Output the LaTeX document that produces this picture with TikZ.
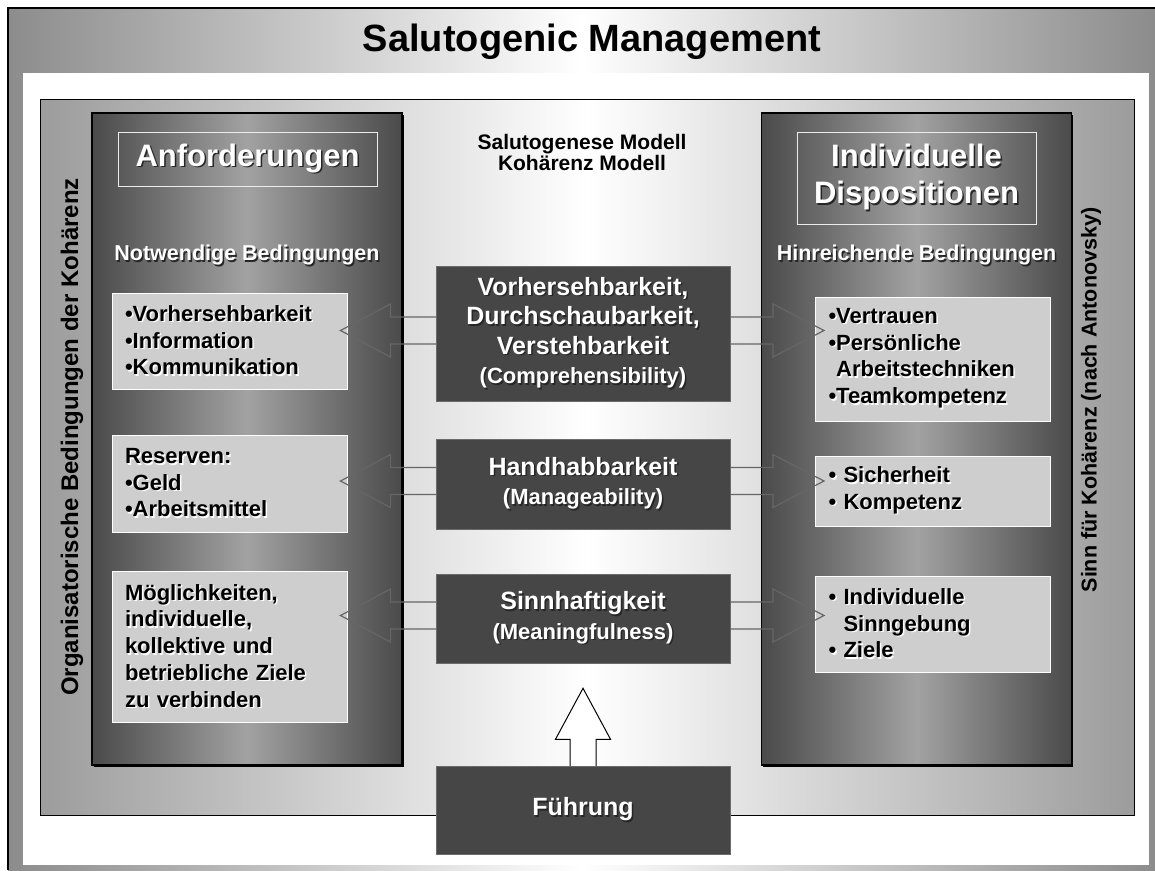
\documentclass[tikz,border=0pt]{standalone}
\usepackage{fontspec}
\setmainfont{Liberation Sans}
\usetikzlibrary{positioning, calc, shadows}

\definecolor{bggray}{HTML}{8C8C8C}
\definecolor{framegray}{HTML}{9C9C9C}
\definecolor{colgray}{HTML}{4A4A4A}
\definecolor{colmid}{HTML}{A2A2A2}
\definecolor{boxgray}{HTML}{CECECE}
\definecolor{darkfill}{HTML}{464646}
\definecolor{arrowgray}{HTML}{666666}

% text with a small drop shadow
\newcommand{\wsh}[1]{\leavevmode\rlap{\kern1.5pt\raisebox{-1.5pt}{\color{black!85}#1}}#1}
\newcommand{\bsh}[1]{\leavevmode\rlap{\kern1.5pt\raisebox{-1.5pt}{\color{white}#1}}#1}

\begin{document}
\begin{tikzpicture}[
            x=1pt, y=-1pt,
            column/.style={draw=black, line width=1.6pt, left color=colgray, right color=colgray, middle color=colmid,
                minimum width=310pt, minimum height=652pt,
                drop shadow={shadow xshift=1.8pt, shadow yshift=-1.8pt, fill=black, opacity=1}},
            headbox/.style={draw=white!85!gray, line width=0.8pt, text=white, align=center,
                font=\fontsize{31}{37}\selectfont\bfseries},
            subhead/.style={text=white, font=\fontsize{21.5}{24}\selectfont\bfseries},
            listbox/.style={fill=boxgray, draw=white, line width=1pt, text width=209pt, inner xsep=13pt,
                align=left, font=\fontsize{22}{26.7}\selectfont\bfseries},
            darkbox/.style={fill=darkfill, draw=darkfill!80!white, line width=0.5pt, text=white, align=center,
                minimum width=294pt, font=\fontsize{25}{29.5}\selectfont\bfseries},
            arrowline/.style={draw=arrowgray, line width=1.2pt, line join=miter},
        ]
            \useasboundingbox (0,0) rectangle (1155,870);
            % outer frame and title
            \path[left color=bggray, right color=bggray, middle color=white] (8,8) rectangle (1155,870);
            \draw[line width=1.6pt] (8,870) -- (8,8) -- (1155,8);
            \fill[white] (23,73) rectangle (1149,865);
            \node[font=\fontsize{38}{40}\selectfont\bfseries] (title) at (592,42) {Salutogenic Management};

            \node[draw=black, line width=0.8pt, left color=framegray, right color=framegray, middle color=white,
                minimum width=1094pt, minimum height=716pt] (frame) at (587,457) {};

            \node[rotate=90, font=\fontsize{24}{24}\selectfont\bfseries] (org) at (72,437)
                {Organisatorische Bedingungen der Kohärenz};
            \node[rotate=90, font=\fontsize{21.5}{24}\selectfont\bfseries] (sinn) at (1091,400)
                {Sinn für Kohärenz (nach Antonovsky)};

            % the two columns
            \node[column] (links) at (247,439) {};
            \node[column] (rechts) at (916.5,439) {};

            \node[headbox, minimum width=259pt, minimum height=54pt] (anf) at (247.5,159) {\wsh{Anforderungen}};
            \node[headbox, minimum width=239pt, minimum height=92pt] (disp) at (916.5,178)
                {\wsh{Individuelle}\\\wsh{Dispositionen}};
            \node[subhead] (notw) at (247,256) {\wsh{Notwendige Bedingungen}};
            \node[subhead] (hinr) at (916.5,256) {\wsh{Hinreichende Bedingungen}};

            \node[align=center, font=\fontsize{21}{21}\selectfont\bfseries] (modell) at (582,152.5)
                {Salutogenese Modell\\Kohärenz Modell};

            % left boxes
            \node[listbox, minimum height=96pt] (vor) at (229.5,341)
                {\bsh{•Vorhersehbarkeit}\\\bsh{•Information}\\\bsh{•Kommunikation}};
            \node[listbox, minimum height=97pt] (res) at (229.5,483.5)
                {\bsh{Reserven:}\\\bsh{•Geld}\\\bsh{•Arbeitsmittel}};
            \node[listbox, minimum height=151pt] (moeg) at (229.5,646.5)
                {\bsh{Möglichkeiten,}\\\bsh{individuelle,}\\\bsh{kollektive und}\\\bsh{betriebliche Ziele}\\\bsh{zu verbinden}};

            % right boxes
            \node[listbox, minimum height=124pt] (vert) at (933,359)
                {\bsh{•Vertrauen}\\\bsh{•Persönliche}\\\phantom{•}\bsh{Arbeitstechniken}\\\bsh{•Teamkompetenz}};
            \node[listbox, minimum height=70pt] (sich) at (933,491)
                {\bsh{• Sicherheit}\\\bsh{• Kompetenz}};
            \node[listbox, minimum height=96pt] (ziele) at (933,624)
                {\bsh{• Individuelle}\\\phantom{• }\bsh{Sinngebung}\\\bsh{• Ziele}};

            % middle boxes
            \node[darkbox, minimum height=135pt] (verst) at (583,333.5)
                {\wsh{Vorhersehbarkeit,}\\\wsh{Durchschaubarkeit,}\\\wsh{Verstehbarkeit}\\
                {\fontsize{22}{29.5}\selectfont\wsh{(Comprehensibility)}}};
            \node[darkbox, minimum height=90pt] (hand) at (583,484)
                {\wsh{Handhabbarkeit}\\{\fontsize{22}{29.5}\selectfont\wsh{(Manageability)}}};
            \node[darkbox, minimum height=89pt] (sinnh) at (583,618.5)
                {\wsh{Sinnhaftigkeit}\\{\fontsize{22}{28}\selectfont\wsh{(Meaningfulness)}}};
            \node[darkbox, minimum height=88pt] (fuehr) at (583,810) {\wsh{Führung}};

            % block arrows to both sides
            \foreach \m/\l/\r in {verst/vor/vert, hand/res/sich, sinnh/moeg/ziele} {
                \coordinate (tl) at ($(\l.east |- \m.center)+(-7,-3)$);
                \coordinate (tr) at ($(\r.west |- \m.center)+(9,-3)$);
                \draw[arrowline] ($(\m.west |- tl)+(0,-13.5)$) -| ($(tl)+(50,-26.5)$) -- (tl)
                    -- ($(tl)+(50,26.5)$) |- ($(\m.west |- tl)+(0,13.5)$);
                \draw[arrowline] ($(\m.east |- tr)+(0,-13.5)$) -| ($(tr)+(-51,-26.5)$) -- (tr)
                    -- ($(tr)+(-51,26.5)$) |- ($(\m.east |- tr)+(0,13.5)$);
            }

            % arrow from Fuehrung
            \coordinate (tu) at ($(sinnh.south)+(0,25)$);
            \filldraw[fill=white, draw=black, line width=1pt] ($(fuehr.north)+(-13,0)$) -- ($(tu)+(-13,51)$)
                -- ($(tu)+(-27.5,51)$) -- (tu) -- ($(tu)+(27.5,51)$) -- ($(tu)+(13,51)$) -- ($(fuehr.north)+(13,0)$);
        \end{tikzpicture}
\end{document}
